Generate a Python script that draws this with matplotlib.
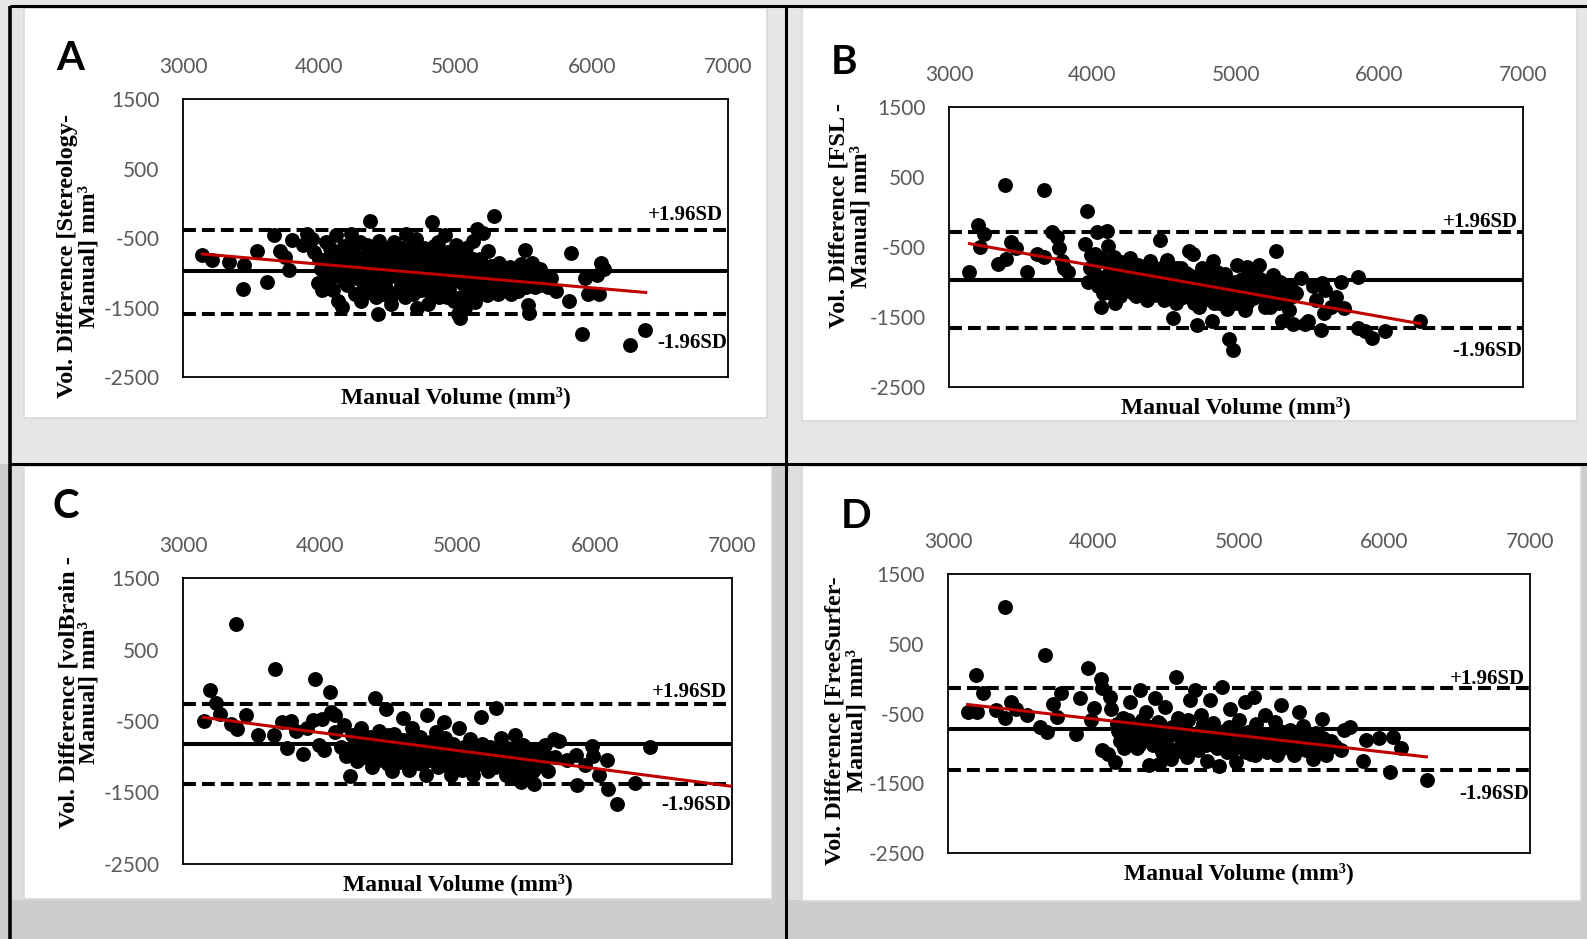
import matplotlib.pyplot as plt
from matplotlib.patches import Rectangle
from matplotlib.lines import Line2D

plt.rcParams['axes.unicode_minus'] = False

# ---------------- data ----------------
panel_letters = ['A', 'B', 'C', 'D']
y_labels = ['Vol. Difference [Stereology-\nManual] mm\u00b3',
            'Vol. Difference [FSL -\nManual] mm\u00b3',
            'Vol. Difference [volBrain -\nManual] mm\u00b3',
            'Vol. Difference [FreeSurfer-\nManual] mm\u00b3']
x_label = 'Manual Volume (mm\u00b3)'
x_ticks = [3000, 4000, 5000, 6000, 7000]
y_ticks = [-2500, -1500, -500, 500, 1500]

# mean difference and +/-1.96 SD limits
mean_diff = [-980, -970, -820, -722]
upper_loa = [-389, -280, -258, -140]
lower_loa = [-1587, -1655, -1377, -1308]

# red trend lines (end points)
trend_x = [[3142, 6396], [3143, 6282], [3147, 7000], [3135, 6288]]
trend_y = [[-730, -1284], [-452, -1595], [-449, -1414], [-371, -1122]]

# A: Stereology - Manual
a_manual = [3140, 3210, 3340, 3450, 3440, 3540, 3620, 3670, 3710, 3750,
            3780, 3800, 3880, 3910, 3950, 3990, 4020, 4000, 4060, 4080,
            4090, 4120, 4140, 4170, 4130, 4160, 4190, 4200, 4230, 4250,
            4240, 4260, 4280, 4300, 4310, 4330, 4350, 4370, 4380, 4390,
            4400, 4420, 4430, 4440, 4450, 4460, 4480, 4490, 4500, 4520,
            4530, 4550, 4560, 4580, 4600, 4610, 4630, 4640, 4660, 4680,
            4700, 4710, 4720, 4740, 4750, 4770, 4780, 4800, 4810, 4830,
            4840, 4850, 4870, 4880, 4900, 4910, 4920, 4940, 4950, 4970,
            4990, 5000, 5020, 5030, 5040, 5050, 5060, 5070, 5090, 5100,
            5110, 5130, 5140, 5150, 5160, 5180, 5190, 5200, 5210, 5230,
            5240, 5260, 5280, 5290, 5310, 5320, 5340, 5360, 5380, 5400,
            5420, 5440, 5460, 5480, 5500, 5510, 5520, 5530, 5540, 5560,
            5570, 5590, 5600, 5620, 5640, 5660, 5700, 5740, 5830, 5850,
            5930, 5950, 5970, 6040, 6050, 6070, 6090, 6280, 6390, 4050,
            4100, 4180, 4270, 4340, 4420, 4470, 4540, 4590, 4650, 4690,
            4730, 4760, 4790, 4860, 4890, 4930, 4960, 5010, 5080, 5120,
            5170, 5220, 5250, 5300, 5350, 5410, 5450, 5490, 5580,
            3960, 4010, 4040, 4070, 4110, 4150, 4180, 4210, 4230, 4260,
            4290, 4320, 4340, 4360, 4400, 4410, 4440, 4460, 4490, 4510,
            4540, 4570, 4600, 4620, 4640, 4670, 4690, 4720, 4740, 4780,
            4800, 4820, 4840, 4870, 4880, 4910, 4940, 4960, 4980, 5020,
            5040, 5060, 5100, 5130, 5160, 5190, 5230, 5270, 5330, 5390,
            5430, 5470, 5520, 5560, 5620, 5680]
a_diff = [-750, -820, -840, -890, -1230, -680, -1130, -460, -680, -770,
          -960, -530, -600, -440, -510, -1150, -1250, -800, -930, -640,
          -1060, -460, -1400, -1490, -850, -1020, -780, -1180, -440, -680,
          -920, -1300, -1080, -560, -1400, -860, -600, -250, -1200, -990,
          -700, -1350, -1590, -540, -820, -1100, -640, -950, -1250, -760,
          -1450, -560, -1040, -880, -1180, -650, -1350, -440, -960, -780,
          -1100, -520, -1500, -870, -1250, -640, -1050, -1450, -760, -270,
          -930, -1200, -560, -1350, -830, -1090, -450, -700, -1250, -980,
          -1400, -600, -1600, -1650, -880, -1150, -730, -1500, -1030, -940,
          -1300, -550, -1420, -1080, -370, -800, -1200, -430, -1000, -1320,
          -690, -900, -190, -1150, -1300, -860, -1050, -980, -1200, -920,
          -1100, -1010, -1260, -880, -1150, -670, -1040, -1460, -1580, -860,
          -1100, -930, -1000, -1180, -1060, -1120, -1080, -1260, -1400, -720,
          -1880, -1070, -1310, -1030, -1310, -860, -950, -2040, -1830, -560,
          -1250, -620, -820, -1000, -900, -1300, -950, -750, -1150, -600,
          -1000, -820, -1150, -1000, -700, -1150, -850, -1000, -650, -1180,
          -950, -1100, -1200, -1000, -1150, -1300, -1150, -1000, -1200,
          -700, -950, -1080, -780, -980, -700, -1120, -860, -1020, -560,
          -930, -1150, -740, -1280, -880, -1100, -1200, -760, -1100, -900,
          -1300, -700, -980, -1250, -820, -1050, -1300, -650, -1120, -880,
          -1000, -1300, -620, -1100, -780, -950, -1350, -1100, -800, -1100,
          -1350, -950, -1150, -800, -1250, -900, -1000, -1100, -920, -1050,
          -950, -1100, -1200, -1000, -950, -1200]

# B: FSL - Manual
b_manual = [3140, 3200, 3215, 3245, 3340, 3390, 3395, 3430, 3465, 3545,
            3610, 3665, 3665, 3715, 3750, 3770, 3790, 3800, 3830, 3960,
            3950, 3970, 3990, 4000, 4010, 4030, 4040, 4050, 4060, 4080,
            4100, 4110, 4120, 4130, 4150, 4160, 4180, 4200, 4220, 4240,
            4260, 4280, 4300, 4320, 4340, 4360, 4380, 4400, 4420, 4440,
            4470, 4480, 4490, 4500, 4520, 4540, 4560, 4570, 4590, 4610,
            4630, 4650, 4670, 4680, 4700, 4710, 4720, 4730, 4750, 4760,
            4780, 4800, 4820, 4830, 4840, 4860, 4880, 4900, 4920, 4940,
            4950, 4960, 4980, 4990, 5010, 5020, 5040, 5060, 5080, 5100,
            5120, 5140, 5160, 5180, 5200, 5220, 5240, 5260, 5280, 5300,
            5320, 5350, 5380, 5400, 5450, 5480, 5500, 5540, 5560, 5590,
            5600, 5610, 5620, 5660, 5700, 5730, 5750, 5850, 5850, 5900,
            5950, 6040, 6280, 4020, 4070, 4140, 4190, 4230, 4270, 4310,
            4350, 4390, 4430, 4460, 4530, 4580, 4620, 4660, 4690, 4740,
            4770, 4810, 4850, 4870, 4910, 4970, 5030, 5050, 5090, 5130,
            5170, 5230, 5270, 5310, 5370, 5420,
            3980, 4020, 4060, 4090, 4120, 4170, 4190, 4210, 4250, 4280,
            4300, 4330, 4370, 4400, 4420, 4450, 4480, 4510, 4540, 4560,
            4590, 4620, 4640, 4670, 4700, 4720, 4760, 4790, 4820, 4850,
            4880, 4900, 4930, 4960, 4990, 5020, 5050, 5080, 5110, 5140,
            5170, 5200, 5240, 5270, 5300, 5330, 5360, 5400]
b_diff = [-860, -190, -500, -310, -740, 380, -670, -430, -520, -860,
          -600, 310, -640, -280, -350, -520, -700, -800, -860, 20,
          -450, -1000, -620, -760, -860, -280, -1050, -700, -1350, -930,
          -270, -480, -800, -1150, -640, -1300, -990, -720, -870, -1100,
          -660, -950, -1200, -760, -1050, -830, -1250, -700, -980, -1120,
          -400, -800, -1020, -1260, -680, -900, -1520, -1100, -800, -1000,
          -1220, -870, -560, -1060, -600, -1300, -930, -1620, -1130, -800,
          -1000, -1240, -900, -1550, -700, -1100, -1000, -1200, -880, -1380,
          -1810, -1060, -1970, -1300, -760, -1150, -950, -1400, -780, -1080,
          -1230, -900, -760, -1150, -1350, -1000, -1200, -900, -550, -1120,
          -1550, -1250, -1080, -1600, -940, -1600, -1550, -1060, -1250, -1680,
          -1020, -1440, -1120, -1350, -1220, -1000, -1370, -930, -1650, -1700,
          -1800, -1700, -1560, -600, -1150, -900, -1050, -800, -1000, -900,
          -1150, -850, -1180, -900, -1150, -1300, -800, -1150, -950, -1350,
          -900, -1100, -1300, -850, -1050, -1150, -1300, -1000, -1200, -1050,
          -950, -1100, -1250, -1000, -1400, -1150,
          -800, -950, -650, -1100, -950, -800, -1200, -950, -800, -1150,
          -1000, -900, -1050, -1100, -850, -1000, -1150, -900, -1050, -800,
          -1200, -950, -1100, -900, -1150, -1050, -1200, -1100, -1200, -1000,
          -1300, -950, -1100, -1250, -1000, -1250, -1100, -1300, -950, -1200,
          -1100, -1000, -1350, -1050, -1300, -1150, -1050, -1200]

# C: volBrain - Manual
c_manual = [3150, 3200, 3240, 3270, 3350, 3385, 3390, 3460, 3550, 3660,
            3670, 3720, 3760, 3790, 3820, 3875, 3900, 3950, 3960, 3990,
            4010, 4030, 4070, 4080, 4110, 4110, 4150, 4170, 4190, 4220,
            4230, 4250, 4270, 4300, 4320, 4340, 4360, 4380, 4400, 4410,
            4430, 4450, 4470, 4480, 4500, 4520, 4540, 4560, 4580, 4600,
            4610, 4630, 4650, 4670, 4690, 4710, 4730, 4750, 4770, 4780,
            4800, 4820, 4840, 4860, 4880, 4900, 4910, 4930, 4950, 4970,
            4990, 5010, 5030, 5050, 5070, 5090, 5110, 5130, 5150, 5170,
            5180, 5200, 5220, 5240, 5260, 5280, 5300, 5320, 5340, 5360,
            5380, 5400, 5420, 5440, 5460, 5480, 5500, 5520, 5540, 5560,
            5590, 5620, 5640, 5660, 5700, 5710, 5740, 5800, 5860, 5870,
            5930, 5980, 5990, 6030, 6090, 6100, 6160, 6290, 6400, 4280,
            4330, 4390, 4440, 4490, 4530, 4590, 4640, 4700, 4760, 4810,
            4850, 4890, 4960, 5020, 5060, 5120, 5190, 5250, 5310, 5370,
            5430, 5490, 5530, 5580,
            4260, 4290, 4310, 4340, 4370, 4400, 4420, 4460, 4490, 4510,
            4550, 4570, 4600, 4620, 4660, 4680, 4720, 4740, 4780, 4790,
            4830, 4870, 4900, 4920, 4940, 4980, 5000, 5040, 5080, 5100,
            5140, 5160, 5200, 5230, 5270, 5290, 5330, 5350, 5390, 5410,
            5450, 5470, 5510, 5550, 5600, 5650]
c_diff = [-500, -60, -250, -400, -540, 860, -610, -410, -690, -700,
          230, -510, -880, -500, -640, -960, -600, -480, 90, -840,
          -470, -900, -90, -380, -650, -420, -870, -560, -990, -1270,
          -700, -880, -1060, -600, -820, -1000, -720, -1150, -180, -900,
          -640, -1050, -780, -330, -950, -1200, -680, -860, -1070, -460,
          -760, -1000, -1180, -600, -880, -1090, -720, -960, -1250, -420,
          -800, -1020, -650, -1140, -900, -520, -740, -1060, -1250, -820,
          -980, -600, -1180, -870, -1050, -750, -1250, -930, -1100, -450,
          -820, -1000, -1200, -870, -1060, -320, -950, -740, -1130, -880,
          -1000, -1300, -700, -1180, -1350, -830, -1000, -1250, -900, -1380,
          -950, -1100, -840, -1200, -750, -1000, -780, -1050, -970, -1390,
          -1110, -850, -990, -1250, -1050, -1450, -1660, -1370, -870, -780,
          -900, -820, -960, -700, -1000, -900, -850, -1000, -850, -950,
          -800, -1100, -1000, -900, -1100, -1000, -1100, -950, -1100, -1200,
          -950, -1150, -1050, -1150,
          -950, -650, -1000, -780, -900, -1050, -750, -900, -1100, -820,
          -1000, -750, -1050, -900, -1000, -750, -900, -1100, -900, -1050,
          -900, -1000, -850, -950, -1150, -900, -1050, -1000, -950, -1150,
          -900, -1000, -900, -1050, -1150, -1000, -1050, -1250, -1100, -950,
          -1050, -1200, -1100, -1200, -1050, -1000]

# D: FreeSurfer - Manual
d_manual = [3135, 3195, 3200, 3240, 3330, 3390, 3390, 3430, 3470, 3540,
            3630, 3670, 3680, 3720, 3750, 3780, 3880, 3910, 3960, 3980,
            4000, 4050, 4060, 4060, 4100, 4110, 4120, 4150, 4170, 4200,
            4230, 4250, 4270, 4300, 4320, 4340, 4360, 4380, 4400, 4420,
            4440, 4450, 4470, 4490, 4510, 4530, 4570, 4580, 4600, 4620,
            4640, 4660, 4680, 4700, 4720, 4740, 4760, 4780, 4800, 4820,
            4840, 4860, 4880, 4900, 4920, 4940, 4960, 4980, 5000, 5020,
            5040, 5060, 5080, 5100, 5120, 5140, 5160, 5180, 5200, 5230,
            5250, 5270, 5290, 5320, 5350, 5380, 5400, 5410, 5440, 5460,
            5480, 5510, 5530, 5550, 5570, 5600, 5630, 5660, 5700, 5720,
            5760, 5850, 5870, 5960, 6040, 6060, 6110, 6290, 4180, 4220,
            4290, 4330, 4390, 4430, 4480, 4540, 4560, 4610, 4650, 4690,
            4730, 4770, 4810, 4850, 4890, 4930, 4970, 5010, 5070, 5110,
            5150, 5210, 5260, 5310, 5360, 5430, 5490, 5580,
            4160, 4190, 4210, 4240, 4260, 4280, 4310, 4350, 4370, 4410,
            4440, 4460, 4500, 4520, 4550, 4590, 4620, 4630, 4670, 4710,
            4750, 4790, 4830, 4870, 4910, 4950, 4990, 5030, 5050, 5090,
            5130, 5170, 5190, 5220, 5240, 5280, 5300, 5340, 5370, 5390,
            5420, 5450, 5470, 5520, 5560, 5610]
d_diff = [-480, 50, -480, -210, -450, 1020, -570, -330, -430, -520,
          -700, 340, -770, -360, -550, -210, -790, -280, 150, -600,
          -420, 0, -130, -1020, -1080, -270, -440, -1190, -750, -560,
          -880, -330, -660, -1000, -170, -780, -480, -1240, -900, -280,
          -620, -1220, -1050, -400, -780, -1150, 30, -560, -950, -700,
          -1120, -310, -870, -160, -1020, -520, -780, -1180, -300, -640,
          -920, -1250, -120, -750, -1050, -440, -880, -1200, -600, -930,
          -340, -760, -1080, -260, -650, -900, -1020, -520, -790, -1040,
          -620, -850, -380, -960, -730, -1100, -850, -480, -680, -1030,
          -880, -1150, -780, -1000, -580, -1100, -900, -960, -1030, -730,
          -700, -1180, -880, -850, -1340, -840, -990, -1460, -900, -700,
          -850, -600, -700, -850, -950, -700, -1050, -850, -600, -1000,
          -750, -950, -800, -1000, -900, -700, -1000, -800, -900, -1100,
          -800, -950, -1100, -850, -1000, -900, -1000, -850,
          -650, -800, -1000, -600, -900, -750, -950, -650, -850, -950,
          -780, -650, -850, -1000, -800, -700, -1000, -800, -950, -850,
          -650, -880, -750, -850, -1000, -750, -900, -850, -1050, -750,
          -950, -900, -1050, -800, -950, -750, -1000, -900, -800, -1000,
          -1000, -800, -950, -900, -950, -1000]

manual = [a_manual, b_manual, c_manual, d_manual]
diff = [a_diff, b_diff, c_diff, d_diff]

# ---------------- layout (pixels, origin top-left) ----------------
W, H = 1587, 939
plot_boxes = [(183, 99, 728, 377), (949, 107, 1523, 387),
              (183, 578, 732, 864), (948, 574, 1530, 853)]
cards = [(24, 8, 767, 418), (802, 8, 1577, 421),
         (24, 466, 772, 899), (802, 466, 1581, 901)]
letter_pos = [(70, 58), (844, 63), (66, 506), (856, 517)]
ylabel_pos = [(78, 256), (850, 216), (79, 692), (846, 721)]
# (+1.96SD offset above line, -1.96SD offset below line) in pixels
sd_offsets = [(15, 29), (10, 23), (12, 21), (9, 24)]

SERIF = 'Liberation Serif'
TICK_FONT = 'Lato'


def frac_rect(x0, y0, x1, y1):
    """Convert a pixel box (top-left origin) to figure fractions."""
    return (x0 / W, 1 - y1 / H, (x1 - x0) / W, (y1 - y0) / H)


def fig_line(x0, y0, x1, y1, lw=2.2):
    fig.add_artist(Line2D([x0 / W, x1 / W], [1 - y0 / H, 1 - y1 / H],
                          transform=fig.transFigure, color='black', lw=lw,
                          solid_capstyle='butt', zorder=5))


fig = plt.figure(figsize=(W / 100, H / 100), dpi=100)
fig.patch.set_facecolor('#cdcdcd')

# background bands and white cards
fig.add_artist(Rectangle((0, 1 - 464 / H), 1, 464 / H, transform=fig.transFigure,
                         facecolor='#e6e6e6', edgecolor='none', zorder=0))
for x0, x1 in [(10, 24), (786, 802)]:
    fig.add_artist(Rectangle(frac_rect(x0, 466, x1, 900)[:2],
                             (x1 - x0) / W, 434 / H, transform=fig.transFigure,
                             facecolor='#dedede', edgecolor='none', zorder=0))
for c in cards:
    r = frac_rect(*c)
    fig.add_artist(Rectangle(r[:2], r[2], r[3], transform=fig.transFigure,
                             facecolor='white', edgecolor='#d9d9d9', lw=1.2,
                             zorder=1))

# black frame lines
fig_line(10, 6, W, 6)
fig_line(10, 6, 10, H, lw=2.6)
fig_line(786, 6, 786, H)
fig_line(10, 464, W, 464)

for i in range(4):
    ax = fig.add_axes(frac_rect(*plot_boxes[i]))
    ax.set_zorder(3)
    ax.set_xlim(3000, 7000)
    ax.set_ylim(-2500, 1500)
    ax.set_xticks(x_ticks)
    ax.set_yticks(y_ticks)
    ax.xaxis.tick_top()
    ax.tick_params(axis='x', length=0, pad=16, labelsize=15, labelcolor='#595959')
    ax.tick_params(axis='y', length=0, pad=17, labelsize=15, labelcolor='#595959')
    for lab in ax.get_xticklabels() + ax.get_yticklabels():
        lab.set_fontfamily(TICK_FONT)
    for sp in ax.spines.values():
        sp.set_linewidth(1.3)
        sp.set_color('black')

    ax.scatter(manual[i], diff[i], s=115, c='black', linewidths=0, zorder=3)
    ax.axhline(mean_diff[i], color='black', lw=2.9, zorder=2)
    for lim in (upper_loa[i], lower_loa[i]):
        ax.axhline(lim, color='black', lw=2.9, linestyle=(0, (3.2, 1.5)),
                   dash_capstyle='butt', zorder=2)
    ax.plot(trend_x[i], trend_y[i], color='#c00000', lw=2.2, zorder=4)

    up, dn = sd_offsets[i]
    ax.annotate('+1.96SD', xy=(1, upper_loa[i]),
                xycoords=ax.get_yaxis_transform(), xytext=(-5, up),
                textcoords='offset pixels', ha='right', va='center',
                fontsize=15, fontweight='bold', family=SERIF, zorder=5)
    ax.annotate('-1.96SD', xy=(1, lower_loa[i]),
                xycoords=ax.get_yaxis_transform(), xytext=(-1, -dn),
                textcoords='offset pixels', ha='right', va='center',
                fontsize=15, fontweight='bold', family=SERIF, zorder=5)

    ax.annotate(x_label, xy=(0.5, 0), xycoords='axes fraction',
                xytext=(0, -20), textcoords='offset pixels', ha='center',
                va='center', fontsize=17, fontweight='bold', family=SERIF)

    lx, ly = letter_pos[i]
    fig.text(lx / W, 1 - ly / H, panel_letters[i], ha='center', va='center',
             fontsize=29, fontweight='bold', family='Lato', zorder=6)
    yx, yy = ylabel_pos[i]
    fig.text(yx / W, 1 - yy / H, y_labels[i], rotation=90, ha='center',
             va='center', multialignment='center', linespacing=1.0,
             fontsize=17.5, fontweight='bold', family=SERIF, zorder=6)

fig.savefig('out.png', dpi=100, facecolor=fig.get_facecolor())
